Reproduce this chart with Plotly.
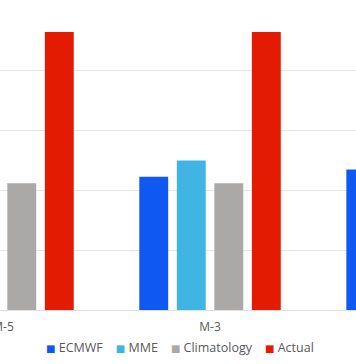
import plotly.graph_objects as go

categories = ["M-5", "M-3", "M-1"]
series_names = ["ECMWF", "MME", "Climatology", "Actual"]
ecmwf = [2.30, 2.23, 2.35]
mme = [2.40, 2.50, 2.45]
climatology = [2.12, 2.12, 2.12]
actual = [4.65, 4.65, 4.65]
colors = ["#0f58f2", "#40b4e2", "#aba8a8", "#e31b03"]

values = [ecmwf, mme, climatology, actual]

fig = go.Figure()
for name, vals, col in zip(series_names, values, colors):
    fig.add_trace(go.Bar(x=categories, y=vals, name=name,
                         marker=dict(color=col, line=dict(width=0)),
                         showlegend=False))

# legend drawn as one centered text line with coloured squares
sep = "\u00a0" * 4
legend_text = sep.join(
    f"<span style='color:{c};font-family:DejaVu Sans;font-size:10px'>■</span>\u00a0{n}"
    for n, c in zip(series_names, colors))
fig.add_annotation(text=legend_text, xref="paper", yref="paper",
                   x=0.507, y=-0.127, xanchor="center", yanchor="middle",
                   showarrow=False, font=dict(size=12.5, color="#595959",
                                              family="Open Sans, DejaVu Sans"))

fig.update_layout(
    width=356, height=364,
    margin=dict(l=0, r=0, t=11, b=54, autoexpand=False),
    paper_bgcolor="white", plot_bgcolor="white",
    barmode="group", bargap=0.275, bargroupgap=0.23,
    font=dict(family="Open Sans, DejaVu Sans", size=12, color="#595959"),
    xaxis=dict(range=[-0.0145, 1.705], showgrid=False, showline=False,
               ticks="", tickfont=dict(size=12, color="#595959"),
               ticklabelstandoff=8, automargin=False),
    yaxis=dict(range=[0, 5], dtick=1, showgrid=True, gridcolor="#e6e6e6",
               gridwidth=1, zeroline=True, zerolinecolor="#e0e0e0",
               zerolinewidth=1, showticklabels=False, ticks="",
               automargin=False),
)

fig.write_html("out.html",
               config={"displayModeBar": False},
               post_script="document.body.style.margin='0';"
                           "document.body.style.overflow='hidden';")
